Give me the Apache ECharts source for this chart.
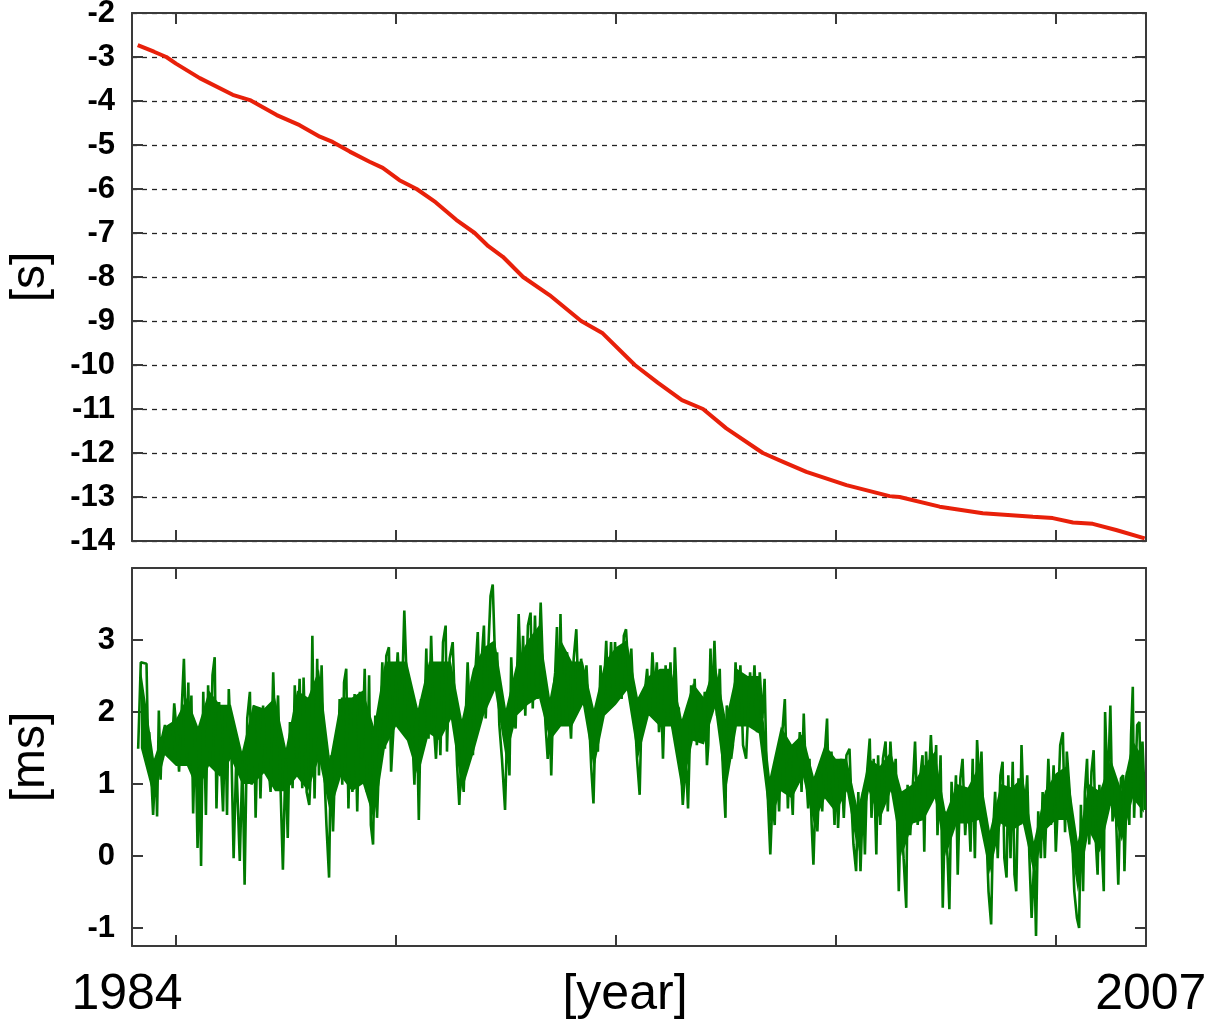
<!DOCTYPE html>
<html>
<head>
<meta charset="utf-8">
<script src="https://cdn.jsdelivr.net/npm/echarts@6/dist/echarts.min.js"></script>
<style>
  html, body { margin: 0; padding: 0; background: #fff; }
  #main { width: 1205px; height: 1020px; }
</style>
</head>
<body>
<div id="main"></div>
<script>
    // 上图：累计偏差 [s]
    var redYears = [1984.13, 1984.50, 1984.78, 1985.00, 1985.54, 1986.29, 1986.68, 1987.29, 1987.81, 1988.27,
        1988.56, 1988.95, 1989.40, 1989.70, 1990.08, 1990.47, 1990.90, 1991.37, 1991.79, 1992.10,
        1992.43, 1992.89, 1993.49, 1994.21, 1994.70, 1995.43, 1995.95, 1996.50, 1996.98, 1997.51,
        1998.34, 1998.80, 1999.33, 2000.24, 2001.22, 2001.45, 2002.36, 2003.34, 2004.48, 2004.93,
        2005.39, 2005.84, 2006.37, 2007.02];
    var redSeconds = [-2.73, -2.88, -3.00, -3.15, -3.48, -3.86, -3.98, -4.32, -4.55, -4.81,
        -4.93, -5.15, -5.38, -5.52, -5.80, -6.00, -6.30, -6.70, -7.00, -7.30,
        -7.54, -8.00, -8.41, -9.00, -9.28, -10.00, -10.40, -10.80, -11.00, -11.44,
        -12.00, -12.20, -12.43, -12.73, -12.98, -13.00, -13.22, -13.37, -13.45, -13.48,
        -13.58, -13.61, -13.75, -13.94];

    // 下图：[ms]，峰谷
    var greenYears = [
        1984.14,1984.20,1984.33,1984.37,1984.39,1984.48,1984.54,1984.57,1984.61,1984.65,
        1984.68,1984.75,1984.80,1984.84,1984.90,1984.96,1985.01,1985.07,1985.12,1985.18,
        1985.24,1985.28,1985.31,1985.35,1985.39,1985.44,1985.49,1985.54,1985.57,1985.62,
        1985.68,1985.73,1985.78,1985.83,1985.88,1985.92,1985.98,1986.03,1986.07,1986.12,
        1986.16,1986.20,1986.26,1986.31,1986.37,1986.45,1986.51,1986.56,1986.62,1986.68,
        1986.72,1986.77,1986.81,1986.87,1986.92,1986.98,1987.04,1987.09,1987.15,1987.21,
        1987.26,1987.32,1987.37,1987.43,1987.49,1987.54,1987.59,1987.65,1987.70,1987.75,
        1987.81,1987.87,1987.90,1987.97,1988.03,1988.06,1988.10,1988.15,1988.21,1988.25,
        1988.31,1988.36,1988.42,1988.48,1988.52,1988.57,1988.62,1988.68,1988.72,1988.78,
        1988.82,1988.87,1988.92,1988.97,1989.01,1989.06,1989.12,1989.18,1989.23,1989.29,
        1989.34,1989.39,1989.43,1989.48,1989.53,1989.57,1989.63,1989.69,1989.75,1989.78,1989.84,
        1989.89,1990.04,1990.12,1990.19,1990.29,1990.33,1990.42,1990.47,1990.52,1990.57,
        1990.63,1990.69,1990.74,1990.80,1990.86,1990.91,1990.97,1991.01,1991.07,1991.13,
        1991.16,1991.22,1991.29,1991.35,1991.39,1991.44,1991.50,1991.54,1991.60,1991.63,
        1991.69,1991.75,1991.80,1991.86,1991.91,1991.95,1992.00,1992.04,1992.09,1992.15,
        1992.20,1992.26,1992.30,1992.35,1992.41,1992.48,1992.53,1992.58,1992.62,1992.67,
        1992.72,1992.79,1992.85,1992.89,1992.94,1993.00,1993.06,1993.11,1993.16,1993.22,
        1993.29,1993.35,1993.40,1993.45,1993.50,1993.53,1993.58,1993.62,1993.66,1993.71,
        1993.74,1993.79,1993.84,1993.89,1993.94,1993.98,1994.04,1994.10,1994.15,1994.21,
        1994.29,1994.33,1994.38,1994.44,1994.49,1994.54,1994.59,1994.65,1994.70,1994.78,
        1994.83,1994.89,1994.94,1994.98,1995.04,1995.09,1995.13,1995.18,1995.23,1995.29,
        1995.35,1995.39,1995.44,1995.48,1995.54,1995.59,
        1995.65,1995.71,1995.77,1995.83,1995.88,1995.93,1995.98,1996.03,1996.07,1996.13,
        1996.18,1996.24,1996.30,1996.34,1996.39,1996.43,1996.49,1996.52,1996.59,1996.64,
        1996.68,1996.71,1996.75,1996.79,1996.84,1996.90,1996.96,1997.02,1997.07,1997.10,
        1997.15,1997.19,1997.24,1997.30,1997.36,1997.40,1997.45,1997.49,1997.52,1997.57,
        1997.62,1997.66,1997.72,1997.77,1997.83,1997.89,1997.96,1998.00,1998.05,1998.10,
        1998.15,1998.21,1998.27,1998.33,1998.38,1998.42,1998.46,1998.51,1998.56,1998.61,
        1998.65,1998.71,1998.75,1998.84,1998.87,1998.91,1998.95,1999.02,1999.06,1999.12,
        1999.18,1999.22,1999.27,1999.31,1999.37,1999.40,1999.45,1999.49,1999.54,1999.58,
        1999.63,1999.69,1999.74,1999.80,1999.84,1999.90,1999.97,2000.01,2000.05,2000.12,
        2000.18,2000.24,2000.31,2000.36,2000.40,2000.46,2000.51,2000.56,2000.62,2000.66,
        2000.71,2000.77,2000.81,2000.86,2000.92,2000.96,2001.01,2001.07,2001.13,2001.18,
        2001.24,2001.30,2001.36,2001.43,
        2001.48,2001.54,2001.60,2001.63,2001.69,2001.75,2001.80,2001.86,2001.92,2001.97,
        2002.01,2002.05,2002.10,2002.16,2002.22,2002.28,2002.31,2002.38,2002.43,2002.48,
        2002.54,2002.58,2002.63,2002.68,2002.73,2002.77,2002.83,2002.88,2002.94,2003.00,
        2003.06,2003.11,2003.16,2003.21,2003.27,2003.31,2003.36,2003.41,2003.47,2003.53,
        2003.57,2003.62,2003.68,2003.74,2003.79,2003.83,2003.88,2003.92,2003.97,2004.02,
        2004.06,2004.10,2004.15,2004.19,2004.22,2004.28,2004.35,2004.40,2004.45,2004.51,
        2004.55,2004.60,2004.66,2004.70,2004.75,2004.83,2004.89,2004.95,2005.00,2005.06,
        2005.10,2005.16,2005.21,2005.25,2005.31,2005.36,2005.42,2005.48,2005.53,2005.57,
        2005.62,2005.66,2005.71,2005.76,2005.81,2005.86,2005.91,2005.95,2005.99,2006.04,
        2006.09,2006.12,2006.18,2006.24,2006.29,2006.35,2006.42,2006.48,2006.53,2006.56,
        2006.62,2006.67,2006.71,2006.75,2006.78,2006.85,2006.90,2006.94,2006.97,2007.03];
    var greenMs = [
        1.49,2.69,2.67,1.35,1.72,0.57,1.35,0.55,2.02,1.06,
        1.63,1.82,1.40,1.82,1.38,2.12,1.77,1.17,1.91,2.74,
        1.35,2.41,1.26,2.23,0.59,1.82,0.11,1.26,-0.14,2.28,
        0.57,2.37,1.26,2.51,2.76,0.66,2.14,1.17,0.62,2.00,
        0.57,2.32,1.45,-0.03,1.35,-0.07,1.33,-0.40,1.91,2.28,
        0.99,2.09,0.53,2.07,0.80,2.09,1.17,1.35,0.89,2.55,
        1.54,2.23,1.08,-0.19,1.35,0.25,1.86,0.94,2.37,1.35,
        2.46,0.94,2.48,0.89,0.71,1.12,3.06,0.80,2.74,1.12,
        2.65,1.35,0.43,-0.30,1.40,0.34,1.35,1.17,2.18,0.99,
        2.41,2.60,0.66,2.00,0.89,2.25,0.62,2.28,1.35,2.60,
        0.89,2.51,0.43,0.16,1.95,0.53,1.54,2.69,1.49,2.78,2.90,
        1.17,2.83,1.82,3.41,1.63,2.28,0.99,2.05,0.50,2.18,
        1.54,2.88,1.63,3.06,1.82,1.35,2.18,1.40,2.97,3.20,
        1.45,2.74,2.97,1.91,1.26,0.71,1.54,0.89,2.18,2.69,
        1.72,1.40,2.51,3.11,1.95,2.74,3.20,1.91,2.74,3.61,
        3.77,2.60,2.83,1.82,1.35,0.64,1.82,1.12,2.76,2.00,
        1.77,3.36,2.23,3.06,1.95,3.20,3.38,2.05,3.34,2.18,
        3.52,2.46,1.82,1.35,1.82,1.12,2.28,2.55,3.18,1.82,
        3.36,1.82,2.74,2.83,2.05,1.63,2.74,3.15,2.18,2.74,
        2.09,2.65,2.05,1.22,0.73,1.91,1.45,2.65,2.00,2.99,
        2.18,2.97,2.14,2.97,2.28,2.74,2.18,3.06,3.15,2.51,
        2.88,2.28,1.82,1.35,0.85,2.18,
        2.23,2.60,1.95,2.83,2.28,2.69,1.72,2.18,1.35,2.65,
        1.82,2.69,1.77,2.90,2.09,2.05,1.12,0.71,1.35,0.66,
        1.59,2.37,1.72,2.46,1.54,2.18,1.63,2.28,1.26,1.54,
        2.88,2.05,2.99,1.95,2.60,1.63,0.99,0.53,2.09,1.95,
        1.35,1.54,2.69,2.00,2.65,1.54,1.35,1.91,2.55,2.05,
        2.65,1.72,2.55,1.91,2.46,1.35,0.71,0.02,0.80,0.43,
        1.35,0.62,1.45,2.18,1.45,0.66,1.35,0.57,1.54,0.99,
        1.72,0.89,1.98,1.26,0.66,1.35,0.43,-0.12,0.89,0.34,
        1.17,0.62,1.35,1.91,0.89,1.45,0.43,1.26,0.39,1.35,
        0.53,1.40,1.49,0.66,0.16,-0.21,0.89,-0.21,0.89,0.02,
        1.17,1.63,0.53,1.35,0.02,1.40,0.43,1.35,1.59,0.62,
        1.59,0.89,1.35,-0.49,
        0.76,-0.03,-0.72,0.99,0.29,0.99,1.59,0.43,1.12,1.40,
        0.06,1.45,0.89,1.68,0.89,1.54,0.29,1.40,-0.72,0.62,
        -0.03,-0.74,1.03,0.43,1.12,-0.26,1.08,1.35,0.29,0.94,
        0.06,1.35,-0.03,1.61,0.89,1.45,0.29,0.53,-0.49,-0.95,
        0.29,0.89,-0.03,1.12,1.31,-0.03,-0.30,1.12,-0.03,1.31,
        -0.26,-0.49,1.08,0.43,1.54,0.43,1.12,-0.03,-0.86,-0.03,
        -1.11,0.62,-0.03,0.89,-0.03,1.35,0.43,1.26,0.06,0.89,
        1.54,1.72,0.33,1.45,0.94,0.43,-0.49,-0.86,-1.00,0.71,
        -0.49,0.89,1.35,0.16,1.17,1.47,0.20,-0.26,0.99,0.20,
        -0.49,2.00,0.89,2.09,0.48,0.89,-0.40,1.08,1.12,-0.21,
        1.17,0.43,1.68,2.35,0.53,1.82,1.86,0.53,1.59,0.64];

    // 下图：密集部分的上下边界
    var coreYears = [1984.20, 1984.50, 1984.75, 1985.00, 1985.25, 1985.50, 1985.75, 1986.00, 1986.25, 1986.50,
        1986.75, 1987.00, 1987.25, 1987.50, 1987.75, 1988.00, 1988.25, 1988.50, 1988.75, 1989.00,
        1989.25, 1989.50, 1989.75, 1990.00, 1990.25, 1990.50, 1990.75, 1991.00, 1991.25, 1991.50,
        1991.75, 1992.00, 1992.25, 1992.50, 1992.75, 1993.00, 1993.25, 1993.50, 1993.75, 1994.00,
        1994.25, 1994.50, 1994.75, 1995.00, 1995.25, 1995.50, 1995.75, 1996.00, 1996.25, 1996.50,
        1996.75, 1997.00, 1997.25, 1997.50, 1997.75, 1998.00, 1998.25, 1998.50, 1998.75, 1999.00,
        1999.25, 1999.50, 1999.75, 2000.00, 2000.25, 2000.50, 2000.75, 2001.00, 2001.25, 2001.50,
        2001.75, 2002.00, 2002.25, 2002.50, 2002.75, 2003.00, 2003.25, 2003.50, 2003.75, 2004.00,
        2004.25, 2004.50, 2004.75, 2005.00, 2005.25, 2005.50, 2005.75, 2006.00, 2006.25, 2006.50,
        2006.75, 2007.00];
    var coreLow = [1.50, 0.80, 1.40, 1.25, 1.25, 0.90, 1.25, 1.10, 1.35, 1.00,
        1.00, 1.15, 0.90, 0.90, 1.10, 0.90, 1.35, 0.60, 1.10, 0.90,
        1.00, 0.50, 1.50, 1.80, 1.60, 1.10, 1.70, 1.60, 1.90, 0.90,
        1.40, 1.95, 2.30, 1.35, 1.95, 2.10, 2.20, 1.60, 1.80, 1.80,
        2.10, 1.20, 1.95, 2.10, 2.30, 1.35, 1.95, 1.80, 1.80, 0.90,
        1.60, 1.55, 2.05, 0.90, 1.80, 1.80, 1.70, 0.45, 0.90, 0.80,
        1.10, 0.45, 0.80, 0.60, 0.90, 0.05, 0.90, 0.50, 0.90, 0.00,
        0.45, 0.50, 0.80, 0.00, 0.45, 0.45, 0.50, -0.25, 0.45, 0.35,
        0.45, -0.25, 0.35, 0.50, 0.50, -0.50, 0.35, 0.05, 0.70, 0.20,
        0.80, 0.60];
    var coreHigh = [2.60, 1.35, 1.80, 1.90, 2.20, 1.80, 2.30, 2.10, 2.10, 1.45,
        2.10, 2.05, 2.20, 1.50, 2.30, 2.20, 2.60, 1.35, 2.20, 2.20,
        2.30, 1.80, 2.70, 2.70, 2.70, 2.05, 2.70, 2.70, 2.70, 1.90,
        2.60, 2.90, 3.00, 2.05, 2.70, 3.00, 3.20, 2.20, 3.00, 2.70,
        2.70, 2.05, 2.70, 2.90, 3.00, 2.20, 2.50, 2.60, 2.60, 1.90,
        2.40, 2.20, 2.70, 1.90, 2.60, 2.50, 2.50, 1.10, 1.80, 1.55,
        1.70, 1.10, 1.55, 1.35, 1.35, 0.65, 1.35, 1.25, 1.45, 0.90,
        1.00, 1.25, 1.45, 0.60, 1.00, 0.95, 1.25, 0.35, 1.00, 0.95,
        1.10, 0.20, 0.90, 1.15, 1.25, 0.20, 1.00, 0.90, 1.35, 0.90,
        1.60, 1.35];

    var yearTicks = [1985, 1990, 1995, 2000, 2005];
    var yearLabels = [1984, 2007];
    var msTicks = [-1, 0, 1, 2, 3];

    var myChart = echarts.init(document.getElementById('main'));

    function zip(xs, ys) {
        return xs.map(function (x, i) { return [x, ys[i]]; });
    }

    var lineCol = '#3a3a3a';
    var green = '#007a00';
    var tickStyle = { show: true, inside: true, length: 11, lineStyle: { color: lineCol, width: 2 } };
    var frameLine = { show: true, onZero: false, lineStyle: { color: lineCol, width: 2 } };
    var labelFont = { color: '#000', fontSize: 31, fontWeight: 'bold', fontFamily: 'Liberation Sans, Arial, sans-serif' };
    var bigFont = 'Liberation Sans Narrow, Liberation Sans, Arial, sans-serif';

    // x轴 (上下两个图各有上下两条)
    function xAx(grid, pos, labels) {
        return {
            type: 'value', gridIndex: grid, position: pos, min: 1984, max: 2007.05,
            axisLine: frameLine,
            axisTick: Object.assign({ customValues: yearTicks }, tickStyle),
            axisLabel: labels ? {
                show: true, customValues: yearLabels, margin: 24,
                formatter: function (v) { return v === 1984 ? '{a|1984}' : '{b|' + v + '}'; },
                color: '#000', fontSize: 50, fontFamily: bigFont,
                rich: {
                    a: { fontSize: 50, fontFamily: bigFont, color: '#000', padding: [0, 10, 0, 0] },
                    b: { fontSize: 50, fontFamily: bigFont, color: '#000', padding: [0, 0, 0, 14] }
                }
            } : { show: false },
            splitLine: { show: false },
            name: labels ? '[year]' : '',
            nameLocation: 'middle', nameGap: 24, nameMoveOverlap: false,
            nameTextStyle: { color: '#000', fontSize: 50, fontFamily: bigFont, padding: [0, 28, 0, 0], verticalAlign: 'top' }
        };
    }

    // 密集带：用坐标轴换算成多边形
    function renderCore(params, api) {
        if (params.dataIndex !== 0) return;
        var pts = [];
        for (var i = 0; i < coreYears.length; i++) pts.push(api.coord([coreYears[i], coreHigh[i]]));
        for (var j = coreYears.length - 1; j >= 0; j--) pts.push(api.coord([coreYears[j], coreLow[j]]));
        return { type: 'polygon', shape: { points: pts }, style: { fill: green } };
    }

    var option = {
        animation: false,
        backgroundColor: '#fff',
        grid: [
            { left: 132, top: 13, width: 1014, height: 528, outerBoundsMode: 'none', containLabel: false },
            { left: 132, top: 568, width: 1014, height: 378, outerBoundsMode: 'none', containLabel: false }
        ],
        xAxis: [
            xAx(0, 'bottom', false),
            xAx(0, 'top', false),
            xAx(1, 'bottom', true),
            xAx(1, 'top', false)
        ],
        yAxis: [
            {
                type: 'value', gridIndex: 0, position: 'left', min: -14, max: -2, interval: 1,
                axisLine: frameLine, axisTick: tickStyle,
                axisLabel: Object.assign({ margin: 17 }, labelFont),
                splitLine: { show: true, lineStyle: { color: '#222', type: [5, 5], width: 1.3 } },
                name: '[s]', nameLocation: 'middle', nameRotate: 90, nameGap: 77,
                nameTextStyle: { color: '#000', fontSize: 48, fontFamily: bigFont }
            },
            {
                type: 'value', gridIndex: 0, position: 'right', min: -14, max: -2, interval: 1,
                axisLine: frameLine, axisTick: tickStyle,
                axisLabel: { show: false }, splitLine: { show: false }
            },
            {
                type: 'value', gridIndex: 1, position: 'left', min: -1.25, max: 4,
                axisLine: frameLine,
                axisTick: Object.assign({ customValues: msTicks }, tickStyle),
                axisLabel: Object.assign({ margin: 17, customValues: msTicks }, labelFont),
                splitLine: { show: false },
                name: '[ms]', nameLocation: 'middle', nameRotate: 90, nameGap: 77,
                nameTextStyle: { color: '#000', fontSize: 48, fontFamily: bigFont }
            },
            {
                type: 'value', gridIndex: 1, position: 'right', min: -1.25, max: 4,
                axisLine: frameLine,
                axisTick: Object.assign({ customValues: msTicks }, tickStyle),
                axisLabel: { show: false }, splitLine: { show: false }
            }
        ],
        series: [
            {
                name: 's', type: 'line', xAxisIndex: 0, yAxisIndex: 0,
                data: zip(redYears, redSeconds),
                showSymbol: false, smooth: false,
                lineStyle: { color: '#e8200a', width: 4 }
            },
            {
                name: 'core', type: 'custom', xAxisIndex: 2, yAxisIndex: 2,
                renderItem: renderCore,
                data: zip(coreYears, coreLow),
                silent: true, z: 1
            },
            {
                name: 'ms', type: 'line', xAxisIndex: 2, yAxisIndex: 2,
                data: zip(greenYears, greenMs),
                showSymbol: false, z: 2,
                lineStyle: { color: green, width: 2.6 }
            }
        ]
    };

    myChart.setOption(option);
    window.addEventListener("resize", function () {
        myChart.resize();
    });
</script>
</body>
</html>
